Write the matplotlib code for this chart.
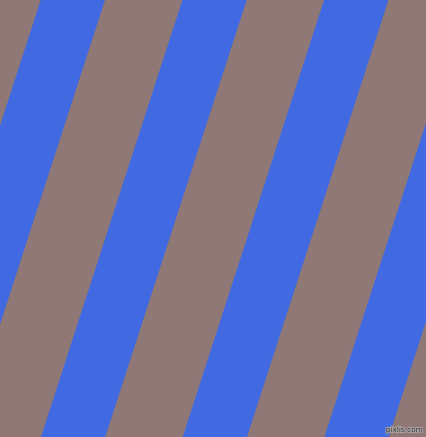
import matplotlib.pyplot as plt
import matplotlib.patheffects as pe
import numpy as np

# Stripe data: x where each blue band starts on the top edge (pixels)
blue_starts = [40.7, 182.4, 324.1, 465.8]
blue_width = 64.3
slope = 0.3236  # horizontal shift per pixel going down
blue = '#4169E1'
brown = '#8F7876'

W, H = 426, 437

fig = plt.figure(figsize=(W / 100, H / 100), dpi=100)
ax = fig.add_axes([0, 0, 1, 1])
ax.set_facecolor(brown)

y = np.array([0, H])
for x0 in blue_starts:
    left = x0 - slope * y
    ax.fill_betweenx(y, left, left + blue_width, color=blue, linewidth=0)

ax.set_xlim(0, W)
ax.set_ylim(H, 0)
ax.axis('off')
fig.patch.set_facecolor(brown)

# Watermark
ax.text(423, 433, 'pixlis.com', ha='right', va='bottom', fontsize=5.3,
        color='#333333',
        path_effects=[pe.withStroke(linewidth=1.2, foreground='#b0a8a8')])

plt.savefig('out.png', dpi=100, facecolor=brown)
